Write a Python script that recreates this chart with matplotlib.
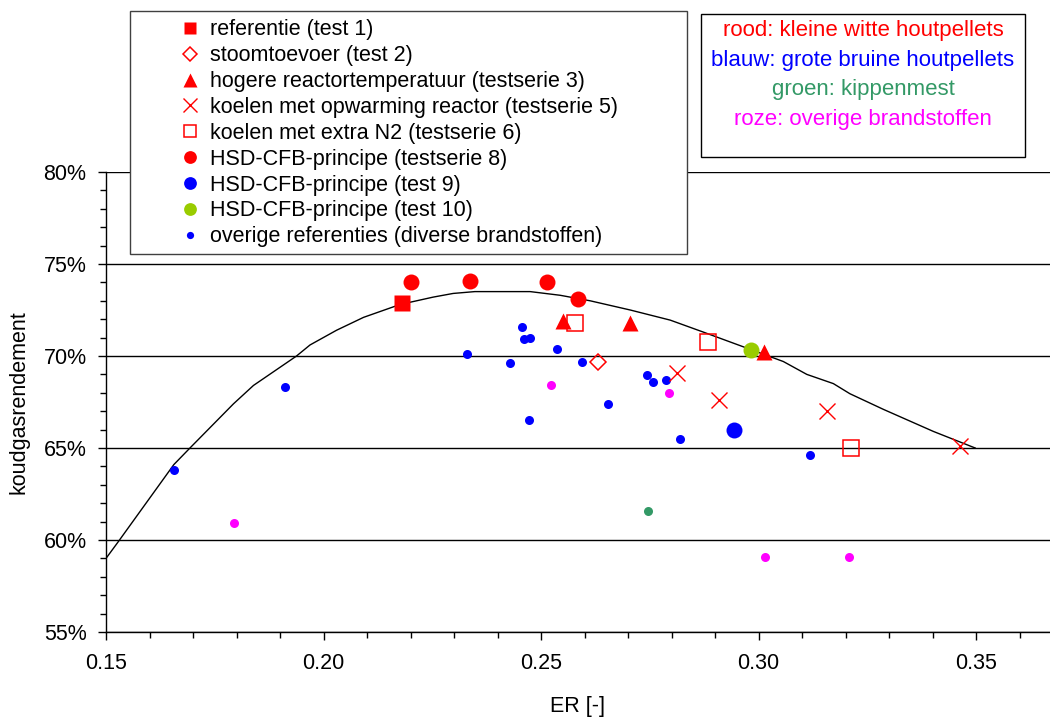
import numpy as np
import matplotlib
matplotlib.use("Agg")
import matplotlib.pyplot as plt
from matplotlib.patches import Rectangle
from matplotlib.ticker import MultipleLocator, FuncFormatter

plt.rcParams['font.family'] = ['Liberation Sans', 'DejaVu Sans']

# trendline
curve_er = [0.150, 0.1528, 0.1656, 0.1693, 0.1793, 0.1839, 0.1938, 0.1969, 0.2030, 0.2092,
            0.2176, 0.2252, 0.2298, 0.2348, 0.2475, 0.2544, 0.2613, 0.2705, 0.2797, 0.2873,
            0.2942, 0.3057, 0.3111, 0.3172, 0.3210, 0.3287, 0.3402, 0.3498]
curve_eff = [59.0, 59.9, 64.1, 65.0, 67.4, 68.4, 70.0, 70.6, 71.4, 72.1,
             72.8, 73.2, 73.4, 73.5, 73.5, 73.3, 73.0, 72.5, 71.95, 71.3,
             70.7, 69.7, 69.0, 68.5, 67.95, 67.1, 65.9, 65.0]

# test series
test1_er = [0.218]
test1_eff = [72.9]
test2_er = [0.2632]
test2_eff = [69.7]
serie3_er = [0.2551, 0.2705, 0.3013]
serie3_eff = [71.9, 71.8, 70.2]
serie5_er = [0.2813, 0.2908, 0.3157, 0.3463]
serie5_eff = [69.1, 67.6, 67.0, 65.1]
serie6_er = [0.2579, 0.2883, 0.3213]
serie6_eff = [71.8, 70.75, 65.0]
serie8_er = [0.2201, 0.2337, 0.2513, 0.2586]
serie8_eff = [74.0, 74.1, 74.0, 73.1]
test9_er = [0.2943]
test9_eff = [66.0]
test10_er = [0.2983]
test10_eff = [70.3]

# other references
ref_blue_er = [0.1656, 0.1912, 0.2329, 0.2457, 0.2461, 0.2475, 0.2429, 0.2537, 0.2594,
               0.2473, 0.2655, 0.2743, 0.2758, 0.2787, 0.2819, 0.3119]
ref_blue_eff = [63.8, 68.3, 70.1, 71.6, 70.9, 70.97, 69.6, 70.4, 69.7,
                66.5, 67.4, 68.95, 68.6, 68.7, 65.5, 64.6]
ref_pink_er = [0.1795, 0.2522, 0.2794, 0.3014, 0.3208]
ref_pink_eff = [60.9, 68.4, 68.0, 59.05, 59.1]
ref_green_er = [0.2746]
ref_green_eff = [61.6]

labels = ['referentie (test 1)', 'stoomtoevoer (test 2)',
          'hogere reactortemperatuur (testserie 3)',
          'koelen met opwarming reactor (testserie 5)',
          'koelen met extra N2 (testserie 6)',
          'HSD-CFB-principe (testserie 8)', 'HSD-CFB-principe (test 9)',
          'HSD-CFB-principe (test 10)',
          'overige referenties (diverse brandstoffen)']

fuel_notes = ['rood: kleine witte houtpellets', 'blauw: grote bruine houtpellets',
              'groen: kippenmest', 'roze: overige brandstoffen']
note_colors = ['#FF0000', '#0000FF', '#339966', '#FF00FF']

RED = '#FF0000'
BLUE = '#0000FF'
FS = 15.5

fig = plt.figure(figsize=(10.5, 7.17), dpi=100)
ax = fig.add_axes([106 / 1050, 1 - 632 / 717, (1050 - 106) / 1050, (632 - 172) / 717])

ax.plot(curve_er, curve_eff, color='black', lw=1.0, zorder=2)

h_blue, = ax.plot(ref_blue_er, ref_blue_eff, 'o', color=BLUE, ms=6.5, mec='none', zorder=3)
ax.plot(ref_pink_er, ref_pink_eff, 'o', color='#FF00FF', ms=6.5, mec='none', zorder=3)
ax.plot(ref_green_er, ref_green_eff, 'o', color='#339966', ms=6.5, mec='none', zorder=3)

h1, = ax.plot(test1_er, test1_eff, 's', color=RED, ms=11.5, mec='none', zorder=4)
h2, = ax.plot(test2_er, test2_eff, 'D', mfc='none', mec=RED, mew=1.1, ms=8.5, zorder=4)
h10, = ax.plot(test10_er, test10_eff, 'o', color='#99CC00', ms=11.5, mec='none', zorder=4)
h3, = ax.plot(serie3_er, serie3_eff, '^', color=RED, ms=12, mec='none', zorder=5)
h5, = ax.plot(serie5_er, serie5_eff, 'x', color=RED, ms=12, mew=1.0, zorder=4)
h6, = ax.plot(serie6_er, serie6_eff, 's', mfc='none', mec=RED, mew=1.1, ms=11, zorder=4)
h8, = ax.plot(serie8_er, serie8_eff, 'o', color=RED, ms=11.5, mec='none', zorder=4)
h9, = ax.plot(test9_er, test9_eff, 'o', color=BLUE, ms=11.5, mec='none', zorder=4)

ax.set_xlim(0.15, 0.367)
ax.set_ylim(55, 80)
ax.xaxis.set_major_locator(MultipleLocator(0.05))
ax.xaxis.set_minor_locator(MultipleLocator(0.01))
ax.yaxis.set_major_locator(MultipleLocator(5))
ax.yaxis.set_minor_locator(MultipleLocator(1))
ax.xaxis.set_major_formatter(FuncFormatter(lambda v, p: f'{v:.2f}'))
ax.yaxis.set_major_formatter(FuncFormatter(lambda v, p: f'{v:.0f}%'))
ax.tick_params(which='major', direction='out', length=6, width=1, labelsize=FS, color='black')
ax.tick_params(axis='x', which='major', pad=9)
ax.tick_params(axis='y', which='major', pad=8)
ax.tick_params(which='minor', direction='out', length=4, width=1, color='black')
ax.grid(axis='y', which='major', color='black', lw=1)
ax.spines['right'].set_visible(False)
ax.spines['top'].set_visible(False)
for s in ['left', 'bottom']:
    ax.spines[s].set_linewidth(1)

ax.set_xlabel('ER [-]', fontsize=FS, labelpad=16)
ax.set_ylabel('koudgasrendement', fontsize=FS, labelpad=10)

# legend box (frame drawn separately so the marker column can sit inset)
fig.add_artist(Rectangle((130 / 1050, 1 - 254 / 717), (687 - 130) / 1050, (254 - 11) / 717,
                         transform=fig.transFigure, facecolor='white',
                         edgecolor='#404040', lw=1))
handles = [h1, h2, h3, h5, h6, h8, h9, h10, h_blue]
leg = fig.legend(handles, labels, loc='upper left',
                 bbox_to_anchor=(177 / 1050, 1 - 19.5 / 717),
                 fontsize=FS, frameon=False, borderpad=0, markerscale=0.8,
                 labelspacing=0.225, handlelength=1.2, handletextpad=0.33,
                 borderaxespad=0)

# fuel colour note
fig.add_artist(Rectangle((701 / 1050, 1 - 157 / 717), (1025 - 701) / 1050, (157 - 14) / 717,
                         transform=fig.transFigure, facecolor='white',
                         edgecolor='black', lw=1))
for i, (txt, c) in enumerate(zip(fuel_notes, note_colors)):
    fig.text(863 / 1050, 1 - (30.5 + i * 29.7) / 717, txt, color=c, fontsize=16,
             ha='center', va='center')

fig.savefig('out.png', dpi=100)
